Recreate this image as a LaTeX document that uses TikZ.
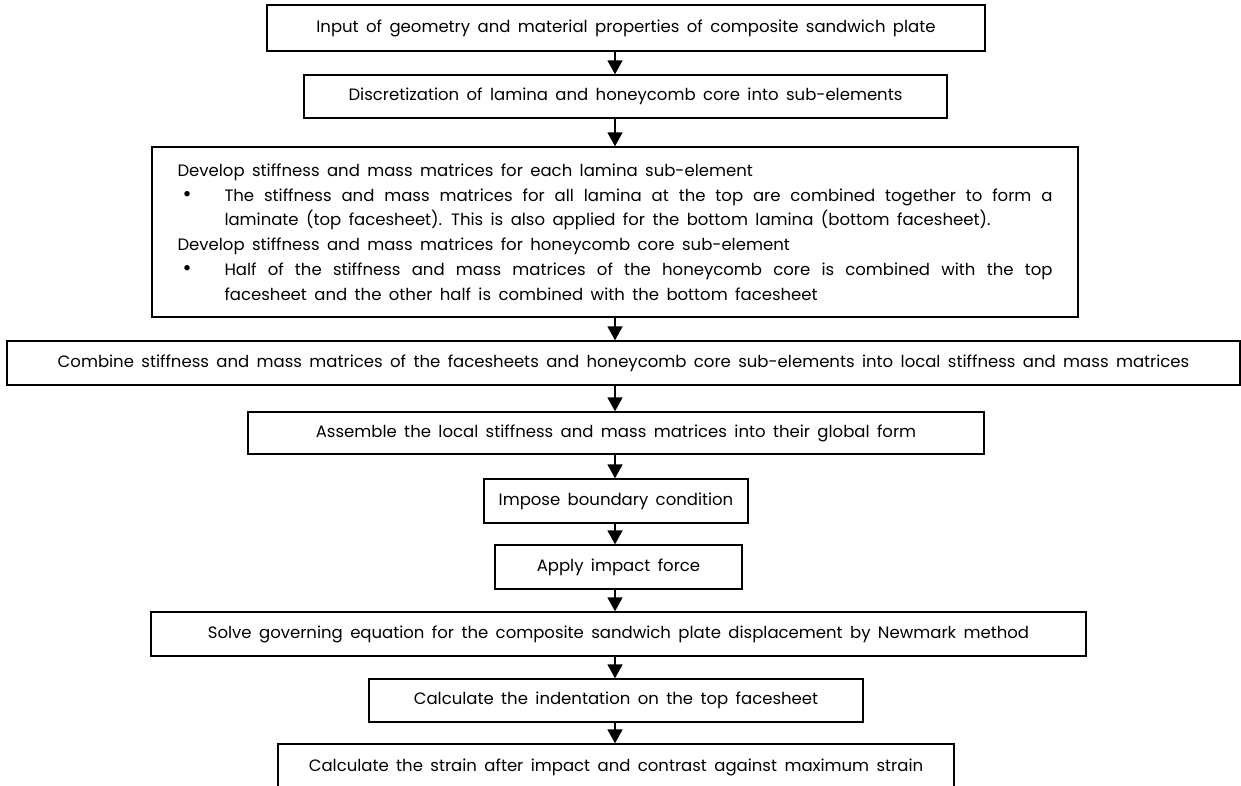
\documentclass[tikz,border=0pt]{standalone}
\usepackage{fontspec}
\setmainfont{Poppins}
\usetikzlibrary{arrows.meta}
\newcommand{\stepfont}{\fontsize{16.5}{24.8}\selectfont\spaceskip=0.45em plus 0.3em minus 0.05em\relax}

\begin{document}
\begin{tikzpicture}[
    x=1pt, y=-1pt,
    >={Triangle[width=15pt, length=14pt]},
    stepbox/.style={rectangle, draw, line width=1.4pt, inner sep=0pt, align=center,
      font=\stepfont},
    flow/.style={->, line width=1.8pt}
  ]
  \useasboundingbox (0,0) rectangle (1241,786);
  \coordinate (axis) at (615,0);

  % ==========================================
  % 1. STEPS
  % ==========================================
  \node[stepbox, minimum width=718pt, minimum height=46pt] (input) at (626,28)
    {Input of geometry and material properties of composite sandwich plate};
  \node[stepbox, minimum width=643pt, minimum height=43pt] (discret) at (625.5,96.5)
    {Discretization of lamina and honeycomb core into sub-elements};

  \node[stepbox, minimum width=926pt, minimum height=170pt, text width=875pt, align=justify] (develop) at (615,232) {%
    \parindent=0pt
    Develop stiffness and mass matrices for each lamina sub-element\par
    \noindent\hangindent=47pt\hangafter=0\llap{\makebox[42pt][l]{\fontsize{22}{22}\selectfont\textbullet}}The stiffness and mass matrices for all lamina at the top are combined together to form a\linebreak laminate (top facesheet). This is also applied for the bottom lamina (bottom facesheet).\par
    Develop stiffness and mass matrices for honeycomb core sub-element\par
    \noindent\hangindent=47pt\hangafter=0\llap{\makebox[42pt][l]{\fontsize{22}{22}\selectfont\textbullet}}Half of the stiffness and mass matrices of the honeycomb core is combined with the top\linebreak facesheet and the other half is combined with the bottom facesheet\par};

  \node[stepbox, minimum width=1233pt, minimum height=44pt] (combine) at (623.5,363)
    {Combine stiffness and mass matrices of the facesheets and honeycomb core sub-elements into local stiffness and mass matrices};
  \node[stepbox, minimum width=736pt, minimum height=42pt] (assemble) at (616,433)
    {Assemble the local stiffness and mass matrices into their global form};
  \node[stepbox, minimum width=264pt, minimum height=44pt] (boundary) at (616,501)
    {Impose boundary condition};
  \node[stepbox, minimum width=247pt, minimum height=44pt] (impact) at (618.5,567)
    {Apply impact force};
  \node[stepbox, minimum width=935pt, minimum height=44pt] (solve) at (618.5,634)
    {Solve governing equation for the composite sandwich plate displacement by Newmark method};
  \node[stepbox, minimum width=494pt, minimum height=43pt] (indent) at (616,700.5)
    {Calculate the indentation on the top facesheet};
  \node[stepbox, minimum width=676pt, minimum height=46pt] (strain) at (616,767)
    {Calculate the strain after impact and contrast against maximum strain};

  % ==========================================
  % 2. ARROWS
  % ==========================================
  \draw[flow] (input.south -| axis) -- (discret.north -| axis);
  \draw[flow] (discret.south -| axis) -- (develop.north -| axis);
  \draw[flow] (develop.south -| axis) -- (combine.north -| axis);
  \draw[flow] (combine.south -| axis) -- (assemble.north -| axis);
  \draw[flow] (assemble.south -| axis) -- (boundary.north -| axis);
  \draw[flow] (boundary.south -| axis) -- (impact.north -| axis);
  \draw[flow] (impact.south -| axis) -- (solve.north -| axis);
  \draw[flow] (solve.south -| axis) -- (indent.north -| axis);
  \draw[flow] (indent.south -| axis) -- (strain.north -| axis);

\end{tikzpicture}
\end{document}
